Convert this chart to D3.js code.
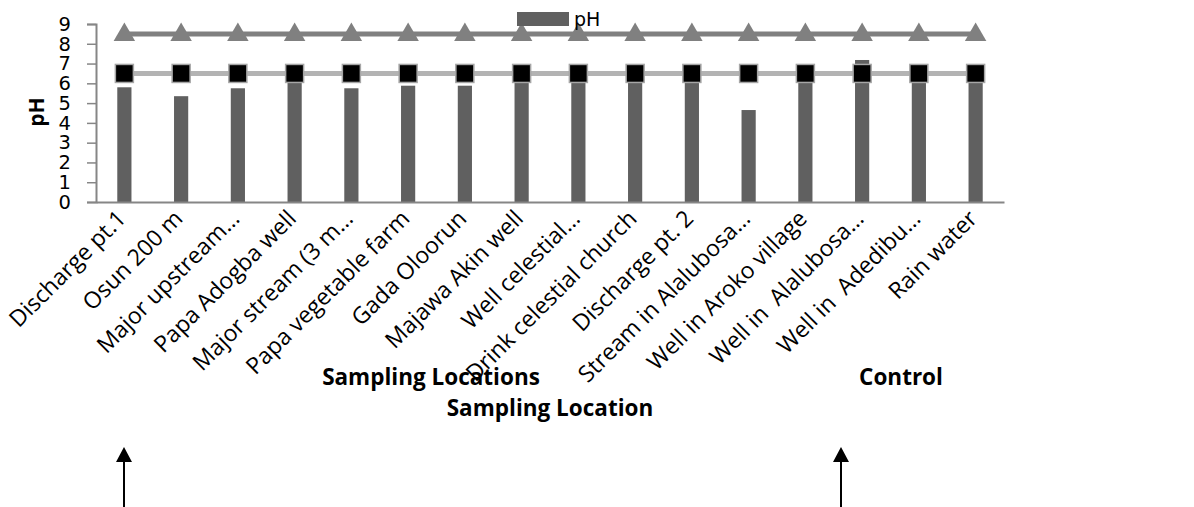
<!DOCTYPE html>
<html>
<head>
<meta charset="utf-8">
<script src="https://cdn.jsdelivr.net/npm/d3@7"></script>
<style>
  html, body { margin: 0; padding: 0; background: #fff; }
  svg { display: block; }
</style>
</head>
<body>
<svg id="chart" width="1194" height="507"></svg>
<script>
// Sampling points along the river and the control sites
const locations = [
  "Discharge pt.1", "Osun 200 m", "Major upstream…", "Papa Adogba well",
  "Major stream (3 m…", "Papa vegetable farm", "Gada Oloorun", "Majawa Akin well",
  "Well celestial…", "Drink celestial church", "Discharge pt. 2", "Stream in Alalubosa…",
  "Well in Aroko village", "Well in  Alalubosa…", "Well in  Adedibu…", "Rain water"
];
// Measured pH at each point
const phValues = [5.8, 5.35, 5.75, 6.2, 5.75, 5.88, 5.88, 6.2, 6.2, 6.2, 6.2, 4.65, 6.2, 7.18, 6.2, 6.2];
// Permissible limits (upper and lower)
const upperLimit = [8.5, 8.5, 8.5, 8.5, 8.5, 8.5, 8.5, 8.5, 8.5, 8.5, 8.5, 8.5, 8.5, 8.5, 8.5, 8.5];
const lowerLimit = [6.5, 6.5, 6.5, 6.5, 6.5, 6.5, 6.5, 6.5, 6.5, 6.5, 6.5, 6.5, 6.5, 6.5, 6.5, 6.5];
const yTicks = [0, 1, 2, 3, 4, 5, 6, 7, 8, 9];

const svg = d3.select("#chart");
const plot = { left: 96, right: 1004, top: 24, bottom: 202 };

const x = d3.scaleBand().domain(locations).range([plot.left, plot.right]).paddingInner(0.75).paddingOuter(0.375);
const y = d3.scaleLinear().domain([0, 9]).range([plot.bottom, plot.top]);
const cx = d => x(d) + x.bandwidth() / 2;

// Bars
svg.append("g").selectAll("rect").data(locations).join("rect")
  .attr("x", d => x(d))
  .attr("width", x.bandwidth())
  .attr("y", (d, i) => y(phValues[i]))
  .attr("height", (d, i) => y(0) - y(phValues[i]))
  .attr("fill", "#606060");

// Y axis
const yAxis = svg.append("g").attr("transform", `translate(${plot.left},0)`)
  .call(d3.axisLeft(y).tickValues(yTicks).tickFormat(d3.format("d")).tickSize(9).tickPadding(16));
yAxis.select(".domain").attr("stroke", "#868686").attr("stroke-width", 2);
yAxis.selectAll(".tick line").attr("stroke", "#868686").attr("stroke-width", 1.5);
yAxis.selectAll(".tick text").attr("font-family", "DejaVu Sans").attr("font-size", 19.5).attr("fill", "#000");

// X axis baseline
const xAxis = svg.append("g").attr("transform", `translate(0,${plot.bottom})`)
  .call(d3.axisBottom(x).tickSize(0).tickFormat(""));
xAxis.select(".domain").attr("stroke", "#868686").attr("stroke-width", 2);

// Upper limit line with triangles
const line = d3.line().x((d, i) => cx(locations[i])).y(d => y(d));
svg.append("path").datum(upperLimit).attr("d", line)
  .attr("fill", "none").attr("stroke", "#808080").attr("stroke-width", 5);
svg.append("g").selectAll("path").data(upperLimit).join("path")
  .attr("d", d3.symbol(d3.symbolTriangle, 200))
  .attr("transform", (d, i) => `translate(${cx(locations[i])},${y(d) + 1})`)
  .attr("fill", "#808080");

// Lower limit line with squares
svg.append("path").datum(lowerLimit).attr("d", line)
  .attr("fill", "none").attr("stroke", "#b3b3b3").attr("stroke-width", 5);
svg.append("g").selectAll("rect").data(lowerLimit).join("rect")
  .attr("x", (d, i) => cx(locations[i]) - 9)
  .attr("y", d => y(d) - 9)
  .attr("width", 18).attr("height", 18)
  .attr("fill", "#000").attr("stroke", "#a6a6a6").attr("stroke-width", 1.5);

// Category labels, rotated
svg.append("g").selectAll("text").data(locations).join("text")
  .attr("transform", d => `translate(${cx(d) + 3},${plot.bottom + 18}) rotate(-45)`)
  .attr("text-anchor", "end")
  .attr("font-family", "Open Sans").attr("font-size", 23).attr("fill", "#000")
  .attr("xml:space", "preserve")
  .text(d => d);

// Y axis title
svg.append("text")
  .attr("transform", "translate(44,112) rotate(-90)")
  .attr("text-anchor", "middle")
  .attr("font-family", "Open Sans").attr("font-weight", "bold").attr("font-size", 21)
  .text("pH");

// Legend
svg.append("rect").attr("x", 517).attr("y", 12).attr("width", 52).attr("height", 14).attr("fill", "#606060");
svg.append("text").attr("x", 574).attr("y", 26)
  .attr("font-family", "DejaVu Sans").attr("font-size", 19).text("pH");

// Group titles
const bold = sel => sel.attr("font-family", "Open Sans").attr("font-weight", "bold").attr("font-size", 22.5).attr("text-anchor", "middle");
svg.append("text").attr("x", 431).attr("y", 385).call(bold).text("Sampling Locations");
svg.append("text").attr("x", 901).attr("y", 385).call(bold).text("Control");
svg.append("text").attr("x", 550).attr("y", 416).call(bold).text("Sampling Location");

// Arrows pointing up at the two groups
[124, 841].forEach(ax => {
  svg.append("line").attr("x1", ax).attr("x2", ax).attr("y1", 507).attr("y2", 462)
    .attr("stroke", "#000").attr("stroke-width", 2);
  svg.append("path").attr("d", `M${ax - 8},462 L${ax},447 L${ax + 8},462 Z`).attr("fill", "#000");
});
</script>
</body>
</html>
